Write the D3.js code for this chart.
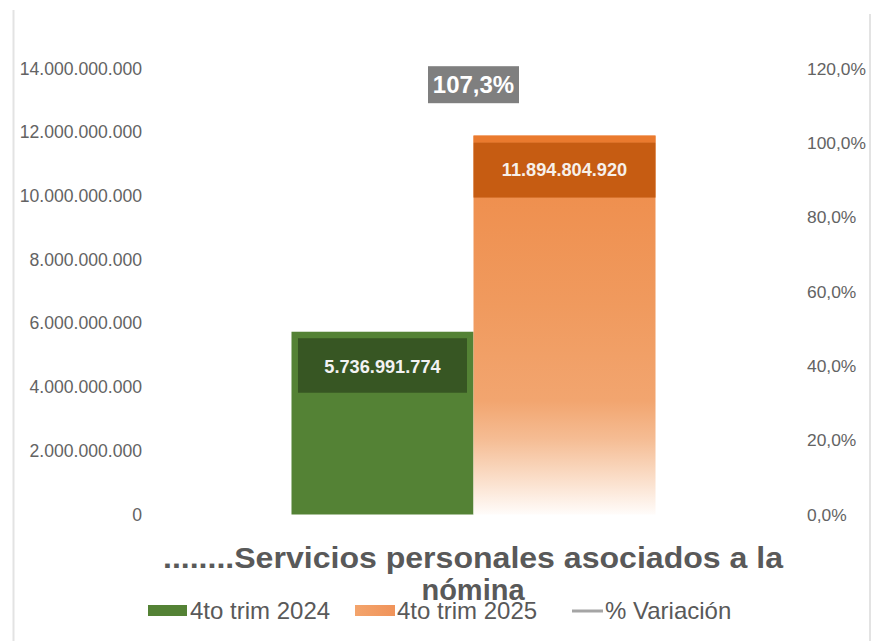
<!DOCTYPE html>
<html><head><meta charset="utf-8">
<script src="https://cdn.jsdelivr.net/npm/d3@7"></script>
<style>html,body{margin:0;padding:0;background:#fff;}svg{display:block;font-family:"Liberation Sans",Arial,sans-serif;}</style>
</head><body>
<svg id="chart" width="885" height="641"></svg>
<script>
const categories = ["........Servicios personales asociados a la nómina"];
const seriesNames = ["4to trim 2024", "4to trim 2025"];
const values2024 = [5736991774];
const values2025 = [11894804920];
const variation = [107.3];
const leftTicks = [0, 2e9, 4e9, 6e9, 8e9, 10e9, 12e9, 14e9];
const rightTicks = [0, 20, 40, 60, 80, 100, 120];
const lineName = "% Variación";

const svg = d3.select("#chart");
const W = 885, H = 641;
const plotTop = 68.5, plotBottom = 514.5, plotLeft = 150, plotRight = 797;

// frame lines
svg.append("line").attr("x1",13.5).attr("x2",13.5).attr("y1",10).attr("y2",H).attr("stroke","#e3e3e3").attr("stroke-width",2);
svg.append("line").attr("x1",870).attr("x2",870).attr("y1",14).attr("y2",H).attr("stroke","#e3e3e3").attr("stroke-width",2);

const y = d3.scaleLinear().domain([0, 14e9]).range([plotBottom, plotTop]);
const y2 = d3.scaleLinear().domain([0, 120]).range([plotBottom, plotTop]);
const x0 = d3.scaleBand().domain(categories).range([plotLeft, plotRight]).paddingInner(0).paddingOuter(0.3887);
const x1 = d3.scaleBand().domain(seriesNames).range([0, x0.bandwidth()]).padding(0);

const fmtNum = v => d3.format(",.0f")(v).replace(/,/g, ".");
const fmtPct = v => d3.format(".1f")(v).replace(".", ",") + "%";

// gradient
const defs = svg.append("defs");
const grad = defs.append("linearGradient").attr("id","og").attr("x1",0).attr("x2",0).attr("y1",0).attr("y2",1);
[[0,"#ee8a47"],[0.45,"#f09a5e"],[0.7,"#f2a56f"],[0.8,"#f5bc93"],[0.9,"#fadcc6"],[1,"#fffcfa"]].forEach(s=>grad.append("stop").attr("offset",s[0]).attr("stop-color",s[1]));
const lg = defs.append("linearGradient").attr("id","lgo").attr("x1",0).attr("x2",1).attr("y1",0).attr("y2",0);
[[0,"#f3a46c"],[1,"#f0935a"]].forEach(s=>lg.append("stop").attr("offset",s[0]).attr("stop-color",s[1]));

// left axis
const la = svg.append("g").attr("transform",`translate(142,0)`)
  .call(d3.axisLeft(y).tickValues(leftTicks).tickFormat(fmtNum).tickSize(0).tickPadding(0));
la.select(".domain").remove();
la.selectAll("text").attr("font-size","17.6px").attr("fill","#636363").attr("font-family","Liberation Sans, Arial, sans-serif");

// right axis
const ra = svg.append("g").attr("transform",`translate(807,0)`)
  .call(d3.axisRight(y2).tickValues(rightTicks).tickFormat(fmtPct).tickSize(0).tickPadding(0));
ra.select(".domain").remove();
ra.selectAll("text").attr("font-size","17.4px").attr("fill","#636363").attr("font-family","Liberation Sans, Arial, sans-serif");

// bars
const rows = categories.map((c,i)=>({cat:c, vals:[{k:seriesNames[0], v:values2024[i]},{k:seriesNames[1], v:values2025[i]}], pct:variation[i]}));
const g = svg.append("g");
rows.forEach(r=>{
  const gx = x0(r.cat);
  const a = r.vals[0], b = r.vals[1];
  g.append("rect").attr("x",gx+x1(a.k)).attr("width",x1.bandwidth()).attr("y",y(a.v)).attr("height",y(0)-y(a.v)).attr("fill","#548235");
  g.append("rect").attr("x",gx+x1(b.k)).attr("width",x1.bandwidth()).attr("y",y(b.v)).attr("height",y(0)-y(b.v)).attr("fill","url(#og)");
  const ga = gx+x1(a.k)+x1.bandwidth()/2;
  g.append("rect").attr("x",gx+x1(a.k)+6.5).attr("width",x1.bandwidth()-13).attr("y",y(a.v)+6.5).attr("height",54.5).attr("fill","#375623");
  g.append("text").attr("x",ga).attr("y",y(a.v)+41.5).attr("text-anchor","middle").attr("font-weight","bold").attr("font-size","18.2px").attr("fill","#f2f2f2").text(fmtNum(a.v));
  const gb = gx+x1(b.k)+x1.bandwidth()/2;
  g.append("rect").attr("x",gx+x1(b.k)).attr("width",x1.bandwidth()).attr("y",y(b.v)).attr("height",7).attr("fill","#ea7a2e");
  g.append("rect").attr("x",gx+x1(b.k)).attr("width",x1.bandwidth()).attr("y",y(b.v)+7).attr("height",55).attr("fill","#c65c12");
  g.append("text").attr("x",gb).attr("y",y(b.v)+40).attr("text-anchor","middle").attr("font-weight","bold").attr("font-size","18.2px").attr("fill","#f7f0ea").text(fmtNum(b.v));
  const px = gx + x0.bandwidth()/2, py = y2(r.pct);
  const line = d3.line().x(()=>px).y(d=>y2(d));
  svg.append("path").attr("d", line([r.pct])).attr("stroke","#a5a5a5").attr("stroke-width",3).attr("fill","none");
  svg.append("rect").attr("x",px-45.5).attr("width",91).attr("y",py-49.5).attr("height",37).attr("fill","#7f7f7f");
  svg.append("text").attr("x",px).attr("y",py-22.5).attr("text-anchor","middle").attr("font-weight","bold").attr("font-size","24px").attr("fill","#ffffff").text(fmtPct(r.pct));
});

// title (category label)
const words = categories[0].split(" ");
const l1 = words.slice(0, words.length-1).join(" "), l2 = words[words.length-1];
svg.append("text").attr("x",473).attr("y",568).attr("text-anchor","middle").attr("font-weight","bold").attr("font-size","29px").attr("fill","#595959").attr("textLength",620).attr("lengthAdjust","spacingAndGlyphs").text(l1);
svg.append("text").attr("x",473).attr("y",600).attr("text-anchor","middle").attr("font-weight","bold").attr("font-size","29px").attr("fill","#595959").text(l2);

// legend
const leg = svg.append("g");
const ly = 611;
leg.append("rect").attr("x",148).attr("y",ly-6).attr("width",39).attr("height",11).attr("fill","#548235");
leg.append("text").attr("x",190).attr("y",ly+8).attr("font-size","24px").attr("fill","#595959").text(seriesNames[0]);
leg.append("rect").attr("x",355).attr("y",ly-6).attr("width",40).attr("height",11).attr("fill","url(#lgo)");
leg.append("text").attr("x",397).attr("y",ly+8).attr("font-size","24px").attr("fill","#595959").text(seriesNames[1]);
leg.append("line").attr("x1",572).attr("x2",603).attr("y1",ly).attr("y2",ly).attr("stroke","#a5a5a5").attr("stroke-width",3);
leg.append("text").attr("x",605).attr("y",ly+8).attr("font-size","24px").attr("fill","#595959").text(lineName);
</script>
</body></html>
